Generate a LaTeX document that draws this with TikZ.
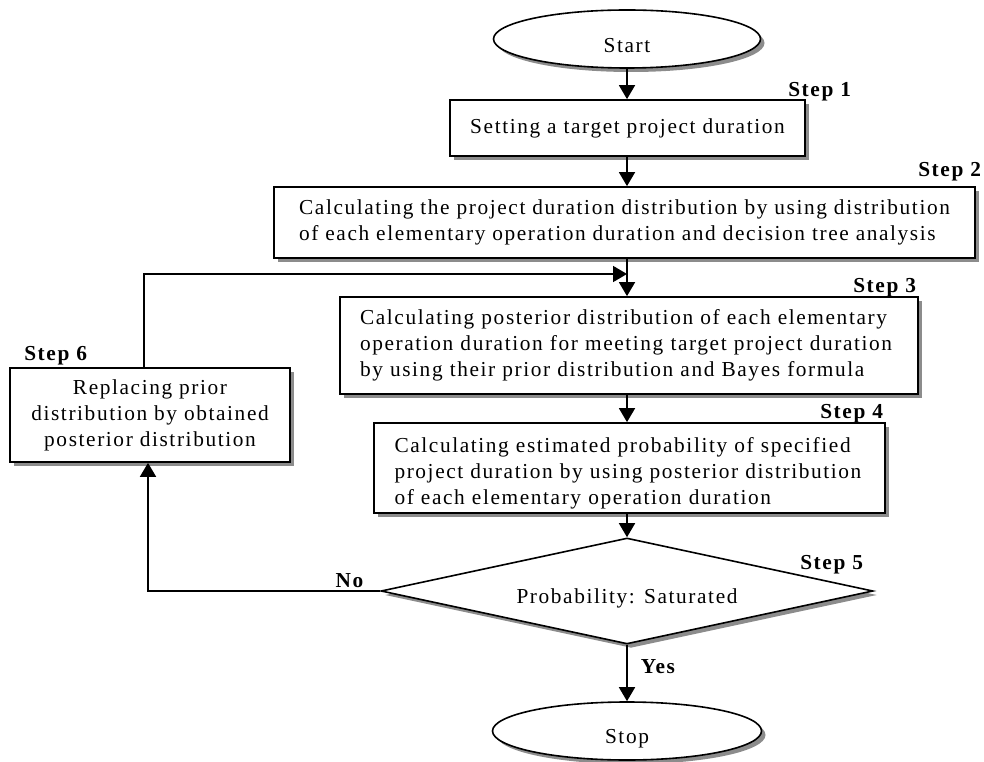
\documentclass[tikz,border=0pt]{standalone}
\usepackage{fontspec}
\setmainfont{Liberation Serif}[LetterSpace=7.5]
\usetikzlibrary{shapes.geometric,arrows.meta,shadows,calc}
\newcommand\pxu{0.75pt}
\begin{document}
\begin{tikzpicture}[x=0.75pt,y=-0.75pt,
  font=\fontsize{16}{19.5}\selectfont,
  shad/.style={drop shadow={shadow xshift=3pt,shadow yshift=-3pt,fill=black!45,opacity=1}},
  procbox/.style={draw,line width=1.3pt,fill=white,shad,inner sep=0pt},
  term/.style={ellipse,draw,line width=1.2pt,fill=white,shad,inner sep=0pt,text height=20pt,text depth=0pt},
  dec/.style={diamond,draw,line width=1.2pt,fill=white,shad,inner sep=0pt,aspect=4.64,text height=18.5pt,text depth=0pt},
  flow/.style={line width=1.3pt,-{Triangle[length=10.5pt,width=12pt]}},
  steplab/.style={font=\fontsize{16}{19.5}\selectfont\bfseries,inner sep=0pt,anchor=base west},
]
\useasboundingbox (0,0) rectangle (984,762);

% nodes
\node[term,minimum width=267*\pxu,minimum height=58*\pxu] (start) at (627,39) {Start};
\node[procbox,minimum width=355*\pxu,minimum height=56*\pxu] (b1) at (627.5,128) {Setting a target project duration};
\node[procbox,minimum width=701*\pxu,minimum height=71*\pxu,align=left] (b2) at (624.5,222.5)
  {Calculating the project duration distribution by using distribution\\of each elementary operation duration and decision tree analysis};
\node[procbox,minimum width=578*\pxu,minimum height=97*\pxu,text width=403.5pt,align=left] (b3) at (629,345.5)
  {\makebox[403.5pt][s]{Calculating posterior distribution of each elementary}\\
   \makebox[403.5pt][s]{operation duration for meeting target project duration}\\
   by using their prior distribution and Bayes formula};
\node[procbox,minimum width=511*\pxu,minimum height=90*\pxu,text width=352.5pt,align=left] (b4) at (629.5,468)
  {\makebox[352.5pt][s]{\rule{0pt}{19pt}Calculating estimated probability of specified}\\
   \makebox[352.5pt][s]{project duration by using posterior distribution}\\
   of each elementary operation duration};
\node[procbox,minimum width=280*\pxu,minimum height=94*\pxu,align=center] (b6) at (150,415)
  {Replacing prior\\distribution by obtained\\posterior distribution};
\node[dec,minimum width=492*\pxu,minimum height=106*\pxu] (d5) at (627,591) {Probability: Saturated};
\node[term,minimum width=269*\pxu,minimum height=58*\pxu,text height=18pt] (stop) at (627,731) {Stop};

% step labels
\node[steplab] (s1) at (788,97) {Step 1};
\node[steplab] (s2) at (918,177) {Step 2};
\node[steplab] (s3) at (853,293) {Step 3};
\node[steplab] (s4) at (820,418) {Step 4};
\node[steplab] (s5) at (800,569) {Step 5};
\node[steplab] (s6) at (24,361) {Step 6};

% connectors
\coordinate (join) at (627,274);
\draw[flow] (start.south) -- (b1.north -| start.south);
\draw[flow] (b1.south -| start.south) -- (b2.north -| start.south);
\draw[flow] (b2.south -| start.south) -- (b3.north -| start.south);
\draw[flow] (b3.south -| start.south) -- (b4.north -| start.south);
\draw[flow] (b4.south -| start.south) -- (d5.north);
\draw[flow] (d5.south) -- (stop.north) node[steplab,pos=0.5,xshift=9.75pt] (yes) {Yes};
\draw[flow] (d5.west) -| ([xshift=-1.5pt]b6.south)
  node[steplab,anchor=base east,at start,xshift=-12pt,yshift=3pt] (no) {No};
\draw[flow] ([xshift=-4.5pt]b6.north) |- (join);
\end{tikzpicture}
\end{document}
